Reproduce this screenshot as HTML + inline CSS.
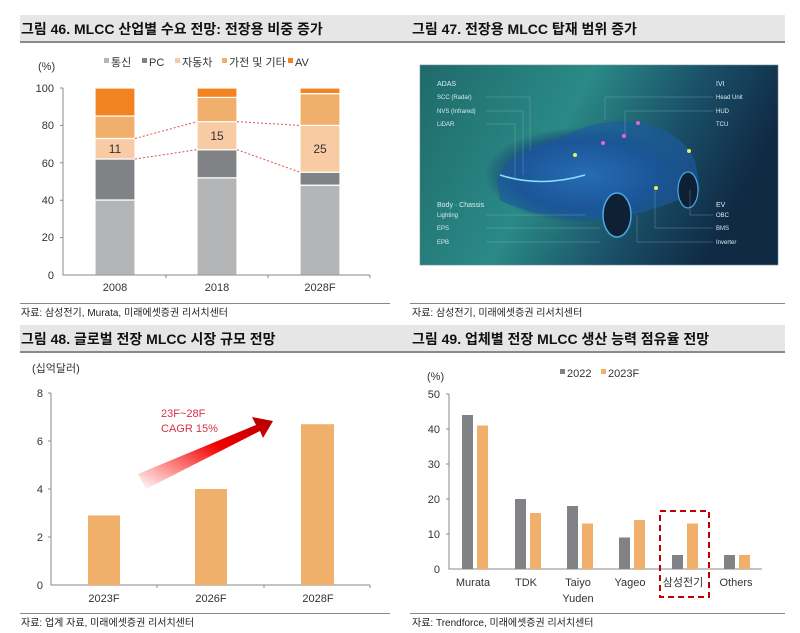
<!DOCTYPE html>
<html><head><meta charset="utf-8"><style>
html,body{margin:0;padding:0;background:#fff;}
svg{display:block;font-family:"Liberation Sans","Noto Sans CJK KR",sans-serif;}
</style></head><body>
<svg width="800" height="633" viewBox="0 0 800 633" xmlns="http://www.w3.org/2000/svg">
<defs>
<linearGradient id="car" x1="0" y1="0" x2="1" y2="0.3">
<stop offset="0" stop-color="#1f6a6a"/><stop offset="0.45" stop-color="#2a8a86"/><stop offset="0.75" stop-color="#1a4f68"/><stop offset="1" stop-color="#102a44"/></linearGradient>
<radialGradient id="carb" cx="0.5" cy="0.5" r="0.5"><stop offset="0" stop-color="#3c8ed8"/><stop offset="0.7" stop-color="#1b4d8a"/><stop offset="1" stop-color="#163c70" stop-opacity="0"/></radialGradient>
<linearGradient id="arr" x1="0" y1="1" x2="1" y2="0"><stop offset="0" stop-color="#ff0000" stop-opacity="0"/><stop offset="0.6" stop-color="#f00000"/><stop offset="1" stop-color="#b00000"/></linearGradient>
</defs>
<rect x="20" y="15" width="765" height="27" fill="#e6e6e6"/>
<rect x="20" y="41" width="765" height="2" fill="#8a8a8a"/>
<text x="21" y="34" font-size="14" font-weight="bold" fill="#111">그림 46. MLCC 산업별 수요 전망: 전장용 비중 증가</text>
<text x="412" y="34" font-size="14" font-weight="bold" fill="#111">그림 47. 전장용 MLCC 탑재 범위 증가</text>
<rect x="20" y="325" width="765" height="27" fill="#e6e6e6"/>
<rect x="20" y="351" width="765" height="2" fill="#8a8a8a"/>
<text x="21" y="344" font-size="14" font-weight="bold" fill="#111">그림 48. 글로벌 전장 MLCC 시장 규모 전망</text>
<text x="412" y="344" font-size="14" font-weight="bold" fill="#111">그림 49. 업체별 전장 MLCC 생산 능력 점유율 전망</text>
<rect x="20" y="303" width="370" height="1" fill="#888"/>
<rect x="410" y="303" width="375" height="1" fill="#888"/>
<rect x="20" y="613" width="370" height="1" fill="#888"/>
<rect x="410" y="613" width="375" height="1" fill="#888"/>
<g font-size="10" fill="#222">
<text x="21" y="316">자료: 삼성전기, Murata, 미래에셋증권 리서치센터</text>
<text x="412" y="316">자료: 삼성전기, 미래에셋증권 리서치센터</text>
<text x="21" y="626">자료: 업계 자료, 미래에셋증권 리서치센터</text>
<text x="412" y="626">자료: Trendforce, 미래에셋증권 리서치센터</text>
</g>

<g font-size="11" fill="#333">
<text x="38" y="70">(%)</text>
<rect x="104" y="58" width="5" height="5" fill="#b4b5b7"/><text x="111" y="66">통신</text>
<rect x="142" y="58" width="5" height="5" fill="#808285"/><text x="149" y="66">PC</text>
<rect x="175" y="58" width="5" height="5" fill="#f8cba4"/><text x="182" y="66">자동차</text>
<rect x="222" y="58" width="5" height="5" fill="#f0b06c"/><text x="229" y="66">가전 및 기타</text>
<rect x="288" y="58" width="5" height="5" fill="#f38221"/><text x="295" y="66">AV</text>
<g text-anchor="end"><text x="54" y="92">100</text><text x="54" y="129">80</text><text x="54" y="167">60</text><text x="54" y="204">40</text><text x="54" y="241">20</text><text x="54" y="279">0</text></g>
<g text-anchor="middle"><text x="115" y="291">2008</text><text x="217" y="291">2018</text><text x="320" y="291">2028F</text></g>
</g>
<g stroke="#fff" stroke-width="1.2">
<rect x="95" y="200" width="40" height="75" fill="#b4b5b7"/>
<rect x="95" y="159" width="40" height="41" fill="#808285"/>
<rect x="95" y="138.5" width="40" height="20.5" fill="#f8cba4"/>
<rect x="95" y="116" width="40" height="22.5" fill="#f0b06c"/>
<rect x="95" y="88" width="40" height="28" fill="#f38221"/>
<rect x="197" y="177.8" width="40" height="97.2" fill="#b4b5b7"/>
<rect x="197" y="149.7" width="40" height="28.1" fill="#808285"/>
<rect x="197" y="121.7" width="40" height="28" fill="#f8cba4"/>
<rect x="197" y="97.4" width="40" height="24.3" fill="#f0b06c"/>
<rect x="197" y="88" width="40" height="9.4" fill="#f38221"/>
<rect x="300" y="185.2" width="40" height="89.8" fill="#b4b5b7"/>
<rect x="300" y="172.2" width="40" height="13" fill="#808285"/>
<rect x="300" y="125.4" width="40" height="46.8" fill="#f8cba4"/>
<rect x="300" y="93.6" width="40" height="31.8" fill="#f0b06c"/>
<rect x="300" y="88" width="40" height="5.6" fill="#f38221"/>
</g>
<g stroke="#e05050" stroke-width="1" stroke-dasharray="2,2" fill="none">
<path d="M135 138.5 L197 121.7 M237 121.7 L300 125.4"/>
<path d="M135 159 L197 149.7 M237 149.7 L300 172.2"/>
</g>
<g font-size="12" fill="#333" text-anchor="middle"><text x="115" y="153">11</text><text x="217" y="140">15</text><text x="320" y="153">25</text></g>
<path d="M63 88 V275 H370 M166 275 v3 M268 275 v3 M370 275 v3 M60 88 h3 M60 125.4 h3 M60 162.8 h3 M60 200.2 h3 M60 237.6 h3" stroke="#888" stroke-width="1" fill="none"/>

<rect x="420" y="65" width="358" height="200" fill="url(#car)"/>
<rect x="420" y="65" width="358" height="200" fill="none" stroke="#6a8a96" stroke-width="0.6"/>
<ellipse cx="585" cy="175" rx="100" ry="48" fill="url(#carb)"/>
<path d="M497 180 Q510 150 560 140 Q590 118 640 122 Q680 130 695 160 L700 190 Q650 215 600 220 Q540 220 500 200 Z" fill="#1c5aa0" opacity="0.65"/>
<ellipse cx="617" cy="215" rx="14" ry="22" fill="#0f2035" stroke="#4aa8e8" stroke-width="1.5"/>
<ellipse cx="688" cy="190" rx="10" ry="18" fill="#0f2035" stroke="#4aa8e8" stroke-width="1.2"/>
<path d="M500 175 Q540 188 585 175" stroke="#8ae0ff" stroke-width="1.5" fill="none"/>
<g font-size="6" fill="#d8eef2">
<text x="437" y="86" font-size="7">ADAS</text><text x="437" y="99">SCC (Radar)</text><text x="437" y="113">NVS (Infrared)</text><text x="437" y="126">LiDAR</text>
<text x="716" y="86" font-size="7">IVI</text><text x="716" y="99">Head Unit</text><text x="716" y="113">HUD</text><text x="716" y="126">TCU</text>
<text x="437" y="207" font-size="7">Body · Chassis</text><text x="437" y="217">Lighting</text><text x="437" y="230">EPS</text><text x="437" y="244">EPB</text>
<text x="716" y="207" font-size="7">EV</text><text x="716" y="217">OBC</text><text x="716" y="230">BMS</text><text x="716" y="244">Inverter</text>
</g>
<g stroke="#9ac8cc" stroke-width="0.4" fill="none" opacity="0.7">
<path d="M486 97 H530 V150 M486 111 H523 V175 M486 124 H515 V178 M486 215 H585 M486 228 H600 M486 242 H600"/>
<path d="M713 97 H605 V120 M713 111 H625 V135 M713 215 H690 V190 M713 228 H655 V190 M713 242 H637 V215"/>
</g>
<g fill="#e6f060"><circle cx="575" cy="155" r="2"/><circle cx="689" cy="151" r="2"/><circle cx="656" cy="188" r="2"/></g>
<g fill="#f060d0"><circle cx="638" cy="123" r="2"/><circle cx="624" cy="136" r="2"/><circle cx="603" cy="143" r="2"/></g>

<g font-size="11" fill="#333">
<text x="32" y="372">(십억달러)</text>
<g text-anchor="end"><text x="43" y="397">8</text><text x="43" y="445">6</text><text x="43" y="493">4</text><text x="43" y="541">2</text><text x="43" y="589">0</text></g>
<g text-anchor="middle"><text x="104" y="602">2023F</text><text x="211" y="602">2026F</text><text x="318" y="602">2028F</text></g>
</g>
<path d="M51 393 V585 H370 M157 585 v3 M264 585 v3 M370 585 v3 M48 393 h3 M48 441 h3 M48 489 h3 M48 537 h3" stroke="#888" stroke-width="1" fill="none"/>
<rect x="88" y="515.4" width="32" height="69.6" fill="#f0b06c"/>
<rect x="195" y="489" width="32" height="96" fill="#f0b06c"/>
<rect x="301" y="424.2" width="33" height="160.8" fill="#f0b06c"/>
<path d="M138 474 L256 425 L252 417 L273 421 L263 438 L260 431 L146 489 Z" fill="url(#arr)"/>
<g font-size="11" fill="#d8304a"><text x="161" y="417">23F~28F</text><text x="161" y="432">CAGR 15%</text></g>

<g font-size="11" fill="#333">
<text x="427" y="380">(%)</text>
<rect x="560" y="369" width="5" height="5" fill="#808285"/><text x="567" y="377">2022</text>
<rect x="601" y="369" width="5" height="5" fill="#f0b06c"/><text x="608" y="377">2023F</text>
<g text-anchor="end"><text x="440" y="398">50</text><text x="440" y="433">40</text><text x="440" y="468">30</text><text x="440" y="503">20</text><text x="440" y="538">10</text><text x="440" y="573">0</text></g>
<g text-anchor="middle"><text x="473" y="586">Murata</text><text x="526" y="586">TDK</text><text x="578" y="586">Taiyo</text><text x="578" y="602">Yuden</text><text x="630" y="586">Yageo</text><text x="683" y="586">삼성전기</text><text x="736" y="586">Others</text></g>
</g>
<path d="M449 394 V569 H762 M446 394 h3 M446 429 h3 M446 464 h3 M446 499 h3 M446 534 h3" stroke="#888" stroke-width="1" fill="none"/>
<g fill="#808285">
<rect x="462" y="415" width="11" height="154"/>
<rect x="515" y="499" width="11" height="70"/>
<rect x="567" y="506" width="11" height="63"/>
<rect x="619" y="537.5" width="11" height="31.5"/>
<rect x="672" y="555" width="11" height="14"/>
<rect x="724" y="555" width="11" height="14"/>
</g>
<g fill="#f0b06c">
<rect x="477" y="425.5" width="11" height="143.5"/>
<rect x="530" y="513" width="11" height="56"/>
<rect x="582" y="523.5" width="11" height="45.5"/>
<rect x="634" y="520" width="11" height="49"/>
<rect x="687" y="523.5" width="11" height="45.5"/>
<rect x="739" y="555" width="11" height="14"/>
</g>
<rect x="660" y="511" width="49" height="86" fill="none" stroke="#c00000" stroke-width="2" stroke-dasharray="6,4"/>
</svg>
</body></html>
